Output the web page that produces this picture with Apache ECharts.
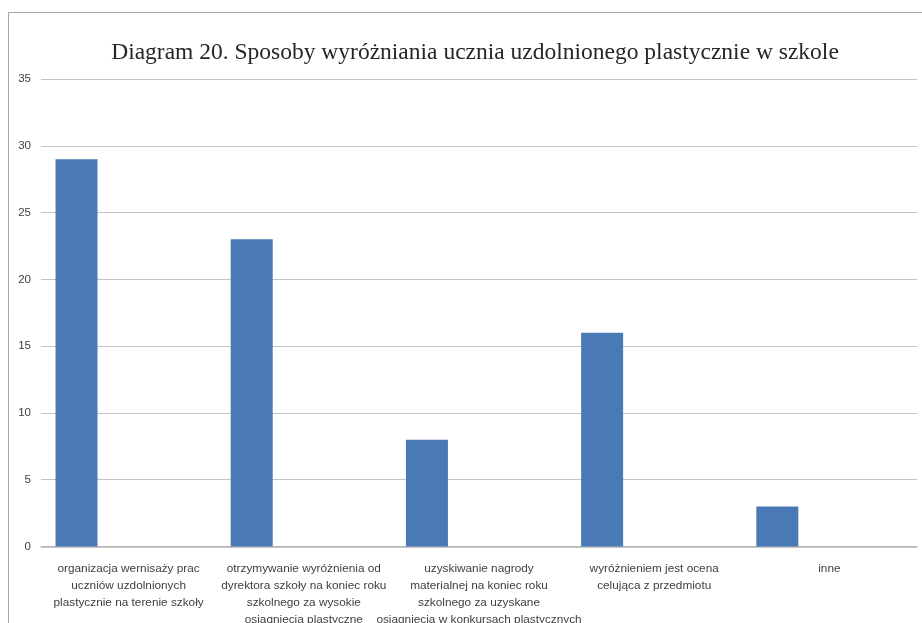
<!DOCTYPE html>
<html>
<head>
<meta charset="utf-8">
<script src="https://cdn.jsdelivr.net/npm/echarts@6/dist/echarts.min.js"></script>
<style>
  html, body { margin: 0; padding: 0; background: #fff; }
  #chart { width: 922px; height: 623px; }
</style>
</head>
<body>
<div id="chart"></div>
<script>
var titleText = 'Diagram 20. Sposoby wyróżniania ucznia uzdolnionego plastycznie w szkole';

var categories = [
  'organizacja wernisaży prac\nuczniów uzdolnionych\nplastycznie na terenie szkoły',
  'otrzymywanie wyróżnienia od\ndyrektora szkoły na koniec roku\nszkolnego za wysokie\nosiągnięcia plastyczne',
  'uzyskiwanie nagrody\nmaterialnej na koniec roku\nszkolnego za uzyskane\nosiągnięcia w konkursach plastycznych',
  'wyróżnieniem jest ocena\ncelująca z przedmiotu',
  'inne'
];

var values = [29, 23, 8, 16, 3];
// second (empty) series in the original clustered layout
var emptyValues = [null, null, null, null, null];

var yTicks = { min: 0, max: 35, interval: 5 };

var chart = echarts.init(document.getElementById('chart'));

chart.setOption({
  animation: false,
  backgroundColor: '#fff',
  title: {
    text: titleText,
    left: 470,
    textAlign: 'center',
    top: 36,
    textStyle: {
      fontFamily: 'Liberation Serif',
      fontSize: 23.5,
      fontWeight: 'normal',
      color: '#262626'
    }
  },
  graphic: [{
    type: 'rect',
    shape: { x: 8.5, y: 12.5, width: 1000, height: 1000 },
    style: { fill: 'none', stroke: '#a6a6a6', lineWidth: 1 },
    silent: true
  }],
  grid: {
    left: 41, right: 5, top: 79, bottom: 76.5,
    containLabel: false,
    outerBoundsMode: 'none'
  },
  xAxis: {
    type: 'category',
    data: categories,
    axisLine: { lineStyle: { color: '#b3b3b3', width: 1.5 } },
    axisTick: { show: false },
    axisLabel: {
      interval: 0,
      margin: 14,
      fontFamily: 'Liberation Sans',
      fontSize: 11.8,
      lineHeight: 17,
      color: '#404040',
      align: 'center'
    }
  },
  yAxis: {
    type: 'value',
    min: yTicks.min,
    max: yTicks.max,
    interval: yTicks.interval,
    axisLine: { show: false },
    axisTick: { show: false },
    splitLine: { lineStyle: { color: '#c4c4c4', width: 1 } },
    axisLabel: {
      margin: 10,
      fontFamily: 'Liberation Sans',
      fontSize: 11.5,
      color: '#404040'
    }
  },
  series: [
    {
      type: 'bar',
      data: values,
      barWidth: 42,
      barGap: '148%',
      itemStyle: { color: '#4a7ab5' }
    },
    {
      type: 'bar',
      data: emptyValues,
      barWidth: 42,
      itemStyle: { color: '#c0504d' }
    }
  ]
});
</script>
</body>
</html>
